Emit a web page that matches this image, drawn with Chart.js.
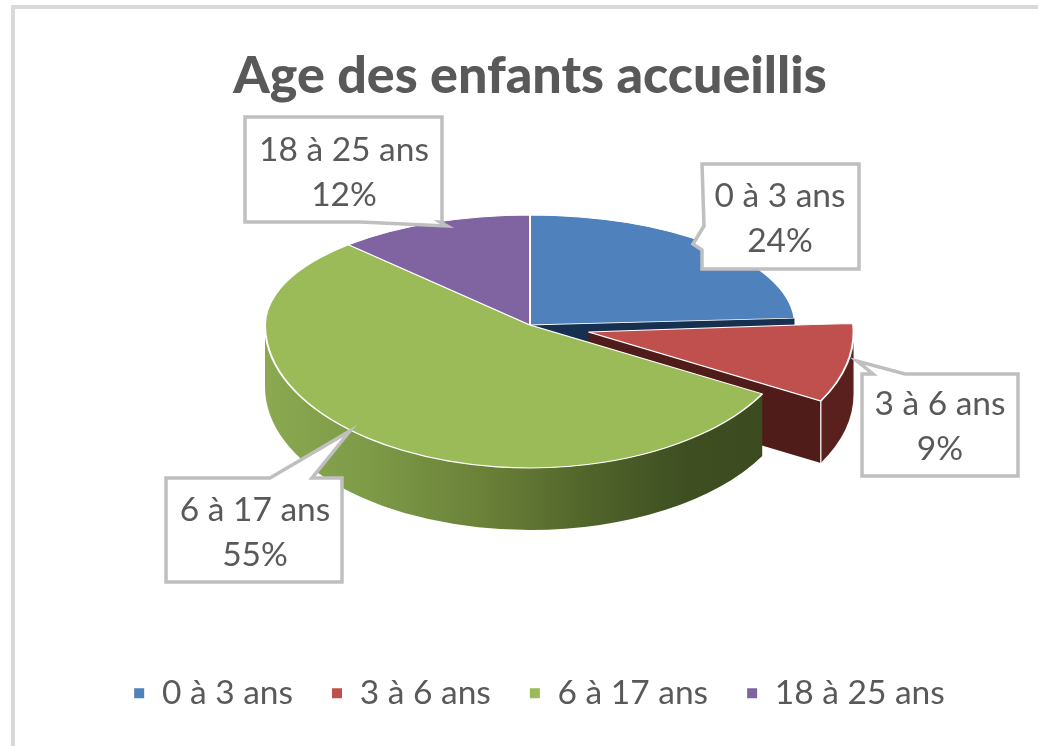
<!DOCTYPE html>
<html lang="fr">
<head>
<meta charset="utf-8">
<title>Age des enfants accueillis</title>
<script src="https://cdn.jsdelivr.net/npm/chart.js@4"></script>
<style>
html,body{margin:0;padding:0;background:#fff;overflow:hidden}
canvas{display:block;filter:blur(0.5px)}
</style>
</head>
<body>
<canvas id="c" width="1038" height="746"></canvas>
<script>
const chartTitle = 'Age des enfants accueillis';
const categories = ['0 à 3 ans', '3 à 6 ans', '6 à 17 ans', '18 à 25 ans'];
const shares = [24, 9, 55, 12];
const sliceColors = ['#4f81bd', '#c0504d', '#9bbb59', '#8064a2'];

const FONT = 'Lato, "Open Sans", sans-serif';
const CX = 530, CY = 325, R = 265;
const K_UP = 110 / R, K_DOWN = 143 / R;
const DEPTH = 62;
const EXPLODE_INDEX = 1, EXPLODE = 60;

const callouts = [
  {box:[702,164,859,269], tip:[[702,250],[693,244],[704,226]], side:'left', tx:780, ty:196},
  {box:[862,374,1018,476], tip:[[873,374],[857,361],[905,374]], side:'top', tx:940, ty:404},
  {box:[166,478,342,582], tip:[[270,478],[350,431],[312,478]], side:'top', tx:255, ty:510},
  {box:[245,117,442,222], tip:[[440,222],[447,226],[360,222]], side:'bottom', tx:344, ty:150}
];

function wall(ctx, cx, cy, a, b, fill) {
  const ry = R * K_DOWN;
  ctx.beginPath();
  ctx.ellipse(cx, cy, R, ry, 0, a, b, false);
  ctx.ellipse(cx, cy + DEPTH, R, ry, 0, b, a, true);
  ctx.closePath();
  ctx.fillStyle = fill;
  ctx.fill();
}
function cutWall(ctx, cx, cy, a, fill) {
  const x = cx + R * Math.cos(a);
  const y = cy + R * K_DOWN * Math.sin(a);
  ctx.beginPath();
  ctx.moveTo(cx, cy);
  ctx.lineTo(x, y);
  ctx.lineTo(x, y + DEPTH);
  ctx.lineTo(cx, cy + DEPTH);
  ctx.closePath();
  ctx.fillStyle = fill;
  ctx.fill();
}

const pie3d = {
  id: 'pie3d',
  afterLayout(chart) {
    chart.legend.left += 9;
    chart.legend.right += 9;
  },
  afterDatasetsUpdate(chart) {
    const el = chart.getDatasetMeta(0).data[EXPLODE_INDEX];
    const mid = (el.startAngle + el.endAngle) / 2;
    el.x += Math.cos(mid) * EXPLODE;
    el.y += Math.sin(mid) * EXPLODE;
  },
  beforeDatasetDraw(chart, args) {
    const ctx = chart.ctx, meta = args.meta, arcs = meta.data;
    const x0 = arcs[0].x, y0 = arcs[0].y;
    const red = arcs[EXPLODE_INDEX], green = arcs[2], blue = arcs[0];
    const rx = CX + (red.x - x0), ry = CY + (red.y - y0) * K_DOWN;

    ctx.save();
    // hidden faces first, from back to front
    cutWall(ctx, CX, CY, blue.endAngle, '#17304f');
    cutWall(ctx, rx, ry, red.endAngle, '#4f1c1a');
    wall(ctx, rx, ry, Math.max(red.startAngle, 0), red.endAngle, '#5a201d');
    const rimX = rx + R * Math.cos(red.endAngle), rimY = ry + R * K_DOWN * Math.sin(red.endAngle);
    ctx.beginPath(); ctx.moveTo(rimX, rimY); ctx.lineTo(rimX, rimY + DEPTH);
    ctx.strokeStyle = '#e8dcdc'; ctx.lineWidth = 1.5; ctx.stroke();

    const g = ctx.createLinearGradient(CX - R, 0, CX + R, 0);
    g.addColorStop(0, '#8aa950');
    g.addColorStop(0.2, '#7d9a47');
    g.addColorStop(0.42, '#6a8038');
    g.addColorStop(0.62, '#4f6329');
    g.addColorStop(0.8, '#3e4e21');
    g.addColorStop(1, '#3a4a1f');
    wall(ctx, CX, CY, green.startAngle, Math.PI, g);
    ctx.restore();

    // top faces: the library's own arcs, seen in perspective
    const halves = [
      {y: 0, h: CY, k: K_UP},
      {y: CY, h: chart.height - CY, k: K_DOWN}
    ];
    halves.forEach(p => {
      ctx.save();
      ctx.beginPath();
      ctx.rect(0, p.y, chart.width, p.h);
      ctx.clip();
      ctx.translate(CX, CY);
      ctx.scale(1, p.k);
      ctx.translate(-x0, -y0);
      meta.controller.draw();
      ctx.restore();
    });
    return false;
  },
  beforeDraw(chart) {
    const ctx = chart.ctx;
    ctx.save();
    ctx.fillStyle = '#d9d9d9';
    ctx.fillRect(11, 5, chart.width - 11, 4);
    ctx.fillRect(11, 5, 4, chart.height - 5);
    ctx.restore();
  },
  afterDraw(chart) {
    const ctx = chart.ctx;
    ctx.save();
    callouts.forEach((c, i) => {
      const [l, t, r, b] = c.box;
      ctx.beginPath();
      ctx.moveTo(l, t);
      if (c.side === 'top') c.tip.forEach(p => ctx.lineTo(p[0], p[1]));
      ctx.lineTo(r, t);
      ctx.lineTo(r, b);
      if (c.side === 'bottom') c.tip.forEach(p => ctx.lineTo(p[0], p[1]));
      ctx.lineTo(l, b);
      if (c.side === 'left') c.tip.forEach(p => ctx.lineTo(p[0], p[1]));
      ctx.closePath();
      ctx.fillStyle = '#ffffff';
      ctx.fill();
      ctx.strokeStyle = '#bfbfbf';
      ctx.lineWidth = 3.5;
      ctx.lineJoin = 'miter';
      ctx.stroke();
      ctx.fillStyle = '#595959';
      ctx.font = '33.5px ' + FONT;
      ctx.textAlign = 'center';
      ctx.textBaseline = 'middle';
      ctx.fillText(categories[i], c.tx, c.ty);
      ctx.fillText(shares[i] + '%', c.tx, c.ty + 45);
    });
    ctx.restore();
  }
};

new Chart(document.getElementById('c'), {
  type: 'pie',
  data: {
    labels: categories,
    datasets: [{
      data: shares,
      backgroundColor: sliceColors,
      borderColor: '#ffffff',
      borderWidth: 2
    }]
  },
  options: {
    responsive: false,
    animation: false,
    radius: R,
    layout: {padding: {left: 22, top: 37, bottom: 26}},
    plugins: {
      title: {
        display: true,
        text: chartTitle,
        color: '#595959',
        font: {family: FONT, size: 52, weight: '900'},
        padding: {top: 8, bottom: 10}
      },
      legend: {
        position: 'bottom',
        labels: {
          boxWidth: 12,
          boxHeight: 12,
          padding: 38,
          color: '#595959',
          font: {family: FONT, size: 33.5}
        }
      },
      tooltip: {enabled: false}
    }
  },
  plugins: [pie3d]
});
</script>
</body>
</html>
